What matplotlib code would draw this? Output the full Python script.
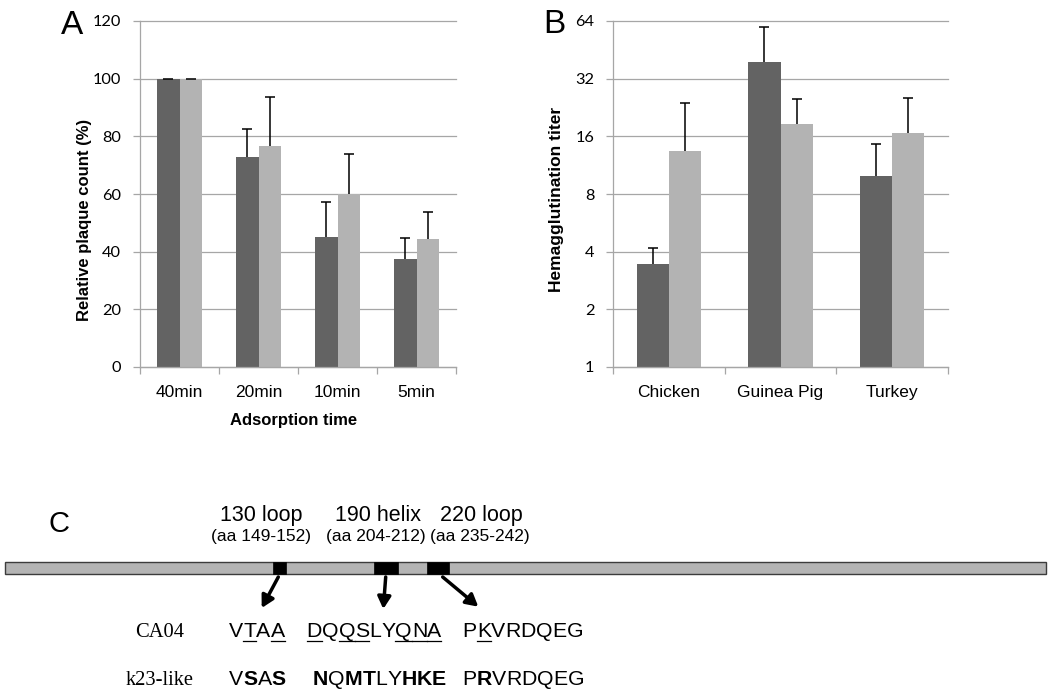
import matplotlib
matplotlib.use('Agg')
import matplotlib.pyplot as plt
import numpy as np
from matplotlib.font_manager import FontProperties
from matplotlib.patches import Rectangle

plt.rcParams['font.family'] = ['Liberation Sans', 'DejaVu Sans']

# panel A data
times = ['40min', '20min', '10min', '5min']
plaque_dark = [100, 72.9, 45.2, 37.5]
plaque_dark_err = [0, 9.5, 12.0, 7.4]
plaque_light = [100, 76.6, 60.0, 44.5]
plaque_light_err = [0, 17.2, 13.8, 9.4]

# panel B data
species = ['Chicken', 'Guinea Pig', 'Turkey']
titer_dark = [3.45, 38.9, 9.9]
titer_dark_err = [0.74, 21.0, 4.7]
titer_light = [13.4, 18.5, 16.6]
titer_light_err = [10.5, 6.5, 8.7]
titer_ticks = [1, 2, 4, 8, 16, 32, 64]

# panel C data
region_names = ['130 loop', '190 helix', '220 loop']
region_ranges = ['(aa 149-152)', '(aa 204-212)', '(aa 235-242)']
ca04_seqs = ['VTAA', 'DQQSLYQNA', 'PKVRDQEG']
k23_seqs = ['VSAS', 'NQMTLYHKE', 'PRVRDQEG']
ca04_underline = [[1, 3], [0, 2, 3, 6, 7, 8], [1]]
k23_bold = [[1, 3], [0, 2, 3, 6, 7, 8], [1]]

DARK = '#636363'
LIGHT = '#b3b3b3'
GRID = '#a6a6a6'

W, H = 1050, 693
fig = plt.figure(figsize=(W / 100, H / 100), dpi=100)


def box(l, t, r, b):
    return [l / W, 1 - b / H, (r - l) / W, (b - t) / H]


# schematic axes in pixel units (whole figure)
ax_c = fig.add_axes([0, 0, 1, 1])
ax_c.set_xlim(0, W)
ax_c.set_ylim(H, 0)
ax_c.axis('off')

axA = fig.add_axes(box(140, 21, 456, 367))
axB = fig.add_axes(box(613, 21, 948, 367))


def style(ax, labels):
    n = len(labels)
    ax.set_xlim(0, n)
    for s in ['top', 'right']:
        ax.spines[s].set_visible(False)
    for s in ['left', 'bottom']:
        ax.spines[s].set_color(GRID)
        ax.spines[s].set_linewidth(0.9)
    ax.set_axisbelow(True)
    ax.set_xticks(np.arange(n) + 0.5)
    ax.set_xticklabels(labels, fontsize=12.5)
    ax.set_xticks(np.arange(n + 1), minor=True)
    ax.tick_params(axis='x', which='major', length=0, pad=13)
    ax.tick_params(axis='x', which='minor', length=5, color=GRID, width=0.9)
    ax.tick_params(axis='y', length=5, color=GRID, width=0.9, pad=8.5, labelsize=11.8)
    ax.grid(axis='y', color=GRID, lw=0.9)
    for lab in ax.get_yticklabels():
        lab.set_fontfamily('Lato')


def upper_err(ax, x, y, e):
    _, caps, _ = ax.errorbar(x, y, yerr=[np.zeros(len(e)), e], fmt='none',
                             ecolor='black', elinewidth=1.1, capsize=3.5, capthick=1.1)
    caps[0].set_visible(False)


def grouped(ax, dark, dark_err, light, light_err, w):
    x = np.arange(len(dark)) + 0.5
    ax.bar(x - w / 2, dark, w, color=DARK)
    ax.bar(x + w / 2, light, w, color=LIGHT)
    upper_err(ax, x - w / 2, dark, dark_err)
    upper_err(ax, x + w / 2, light, light_err)


# panel A
grouped(axA, plaque_dark, plaque_dark_err, plaque_light, plaque_light_err, 0.28)
axA.set_ylim(0, 120)
axA.set_yticks(range(0, 121, 20))
style(axA, times)

# panel B
axB.set_yscale('log', base=2)
grouped(axB, titer_dark, titer_dark_err, titer_light, titer_light_err, 0.287)
axB.set_ylim(1, 64)
axB.set_yticks(titer_ticks)
axB.set_yticklabels([str(t) for t in titer_ticks])
axB.yaxis.set_minor_locator(matplotlib.ticker.NullLocator())
style(axB, species)

for ax in (axA, axB):
    for gl in ax.get_ygridlines():
        gl.set_clip_on(False)

fig.text(294 / W, 1 - 425 / H, 'Adsorption time', ha='center', va='baseline',
         fontsize=12, weight='bold')
fig.text(84 / W, 1 - 220 / H, 'Relative plaque count (%)', rotation=90,
         ha='center', va='center', fontsize=12, weight='bold')
fig.text(557 / W, 1 - 199.5 / H, 'Hemagglutination titer', rotation=90,
         ha='center', va='center', fontsize=12.5, weight='bold')
fig.text(61 / W, 1 - 34.3 / H, 'A', fontsize=24, va='baseline')
fig.text(543 / W, 1 - 33 / H, 'B', fontsize=24, va='baseline')

# panel C schematic
ax_c.text(59.5, 532, 'C', fontsize=21, ha='center', va='baseline')
ax_c.add_patch(Rectangle((5, 562), 1041, 12, fc='#b4b4b4', ec='#3c3c3c', lw=1))
blocks = [(272.7, 286.0), (374.3, 398.3), (427.3, 449.3)]
for x0, x1 in blocks:
    ax_c.add_patch(Rectangle((x0, 562), x1 - x0, 12, fc='black', ec='black', lw=0.5))

name_x = [261, 378, 481.5]
range_x = [260.7, 376, 480]
for name, rng, nx, rx in zip(region_names, region_ranges, name_x, range_x):
    ax_c.text(nx, 520.7, name, ha='center', va='baseline', fontsize=15.5)
    ax_c.text(rx, 541, rng, ha='center', va='baseline', fontsize=12.5)

arrows = [((278.3, 577), (261.7, 608)), ((385.7, 577), (383.3, 609)),
          ((442.7, 577), (478.3, 606.7))]
for start, end in arrows:
    ax_c.annotate('', xy=end, xytext=start,
                  arrowprops=dict(arrowstyle='-|>,head_length=0.4,head_width=0.22',
                                  mutation_scale=18, lw=2.5, color='black',
                                  shrinkA=0, shrinkB=0))

renderer = fig.canvas.get_renderer()
SEQ_FS = 15.3


def draw_seq(x0, y, seq, bold_idx=(), under_idx=()):
    x = x0
    for i, ch in enumerate(seq):
        prop = FontProperties(family='Liberation Sans', size=SEQ_FS,
                              weight='bold' if i in bold_idx else 'normal')
        w1 = renderer.get_text_width_height_descent(ch, prop, ismath=False)[0]
        w2 = renderer.get_text_width_height_descent(ch * 2, prop, ismath=False)[0]
        adv = w2 - w1
        ax_c.text(x + (adv - w1) / 2, y, ch, fontproperties=prop, ha='left', va='baseline')
        if i in under_idx:
            ax_c.plot([x, x + adv], [y + 4, y + 4], color='black', lw=0.9)
        x += adv


ax_c.text(135, 637, 'CA04', family='Liberation Serif', fontsize=14.8, va='baseline')
ax_c.text(126, 685, 'k23-like', family='Liberation Serif', fontsize=14.8, va='baseline')
ca04_x = [229.3, 306.7, 462.7]
k23_x = [229.3, 313, 462.7]
for seq, und, x0 in zip(ca04_seqs, ca04_underline, ca04_x):
    draw_seq(x0, 637, seq, under_idx=und)
for seq, bld, x0 in zip(k23_seqs, k23_bold, k23_x):
    draw_seq(x0, 685, seq, bold_idx=bld)

fig.savefig('out.png', dpi=100)
